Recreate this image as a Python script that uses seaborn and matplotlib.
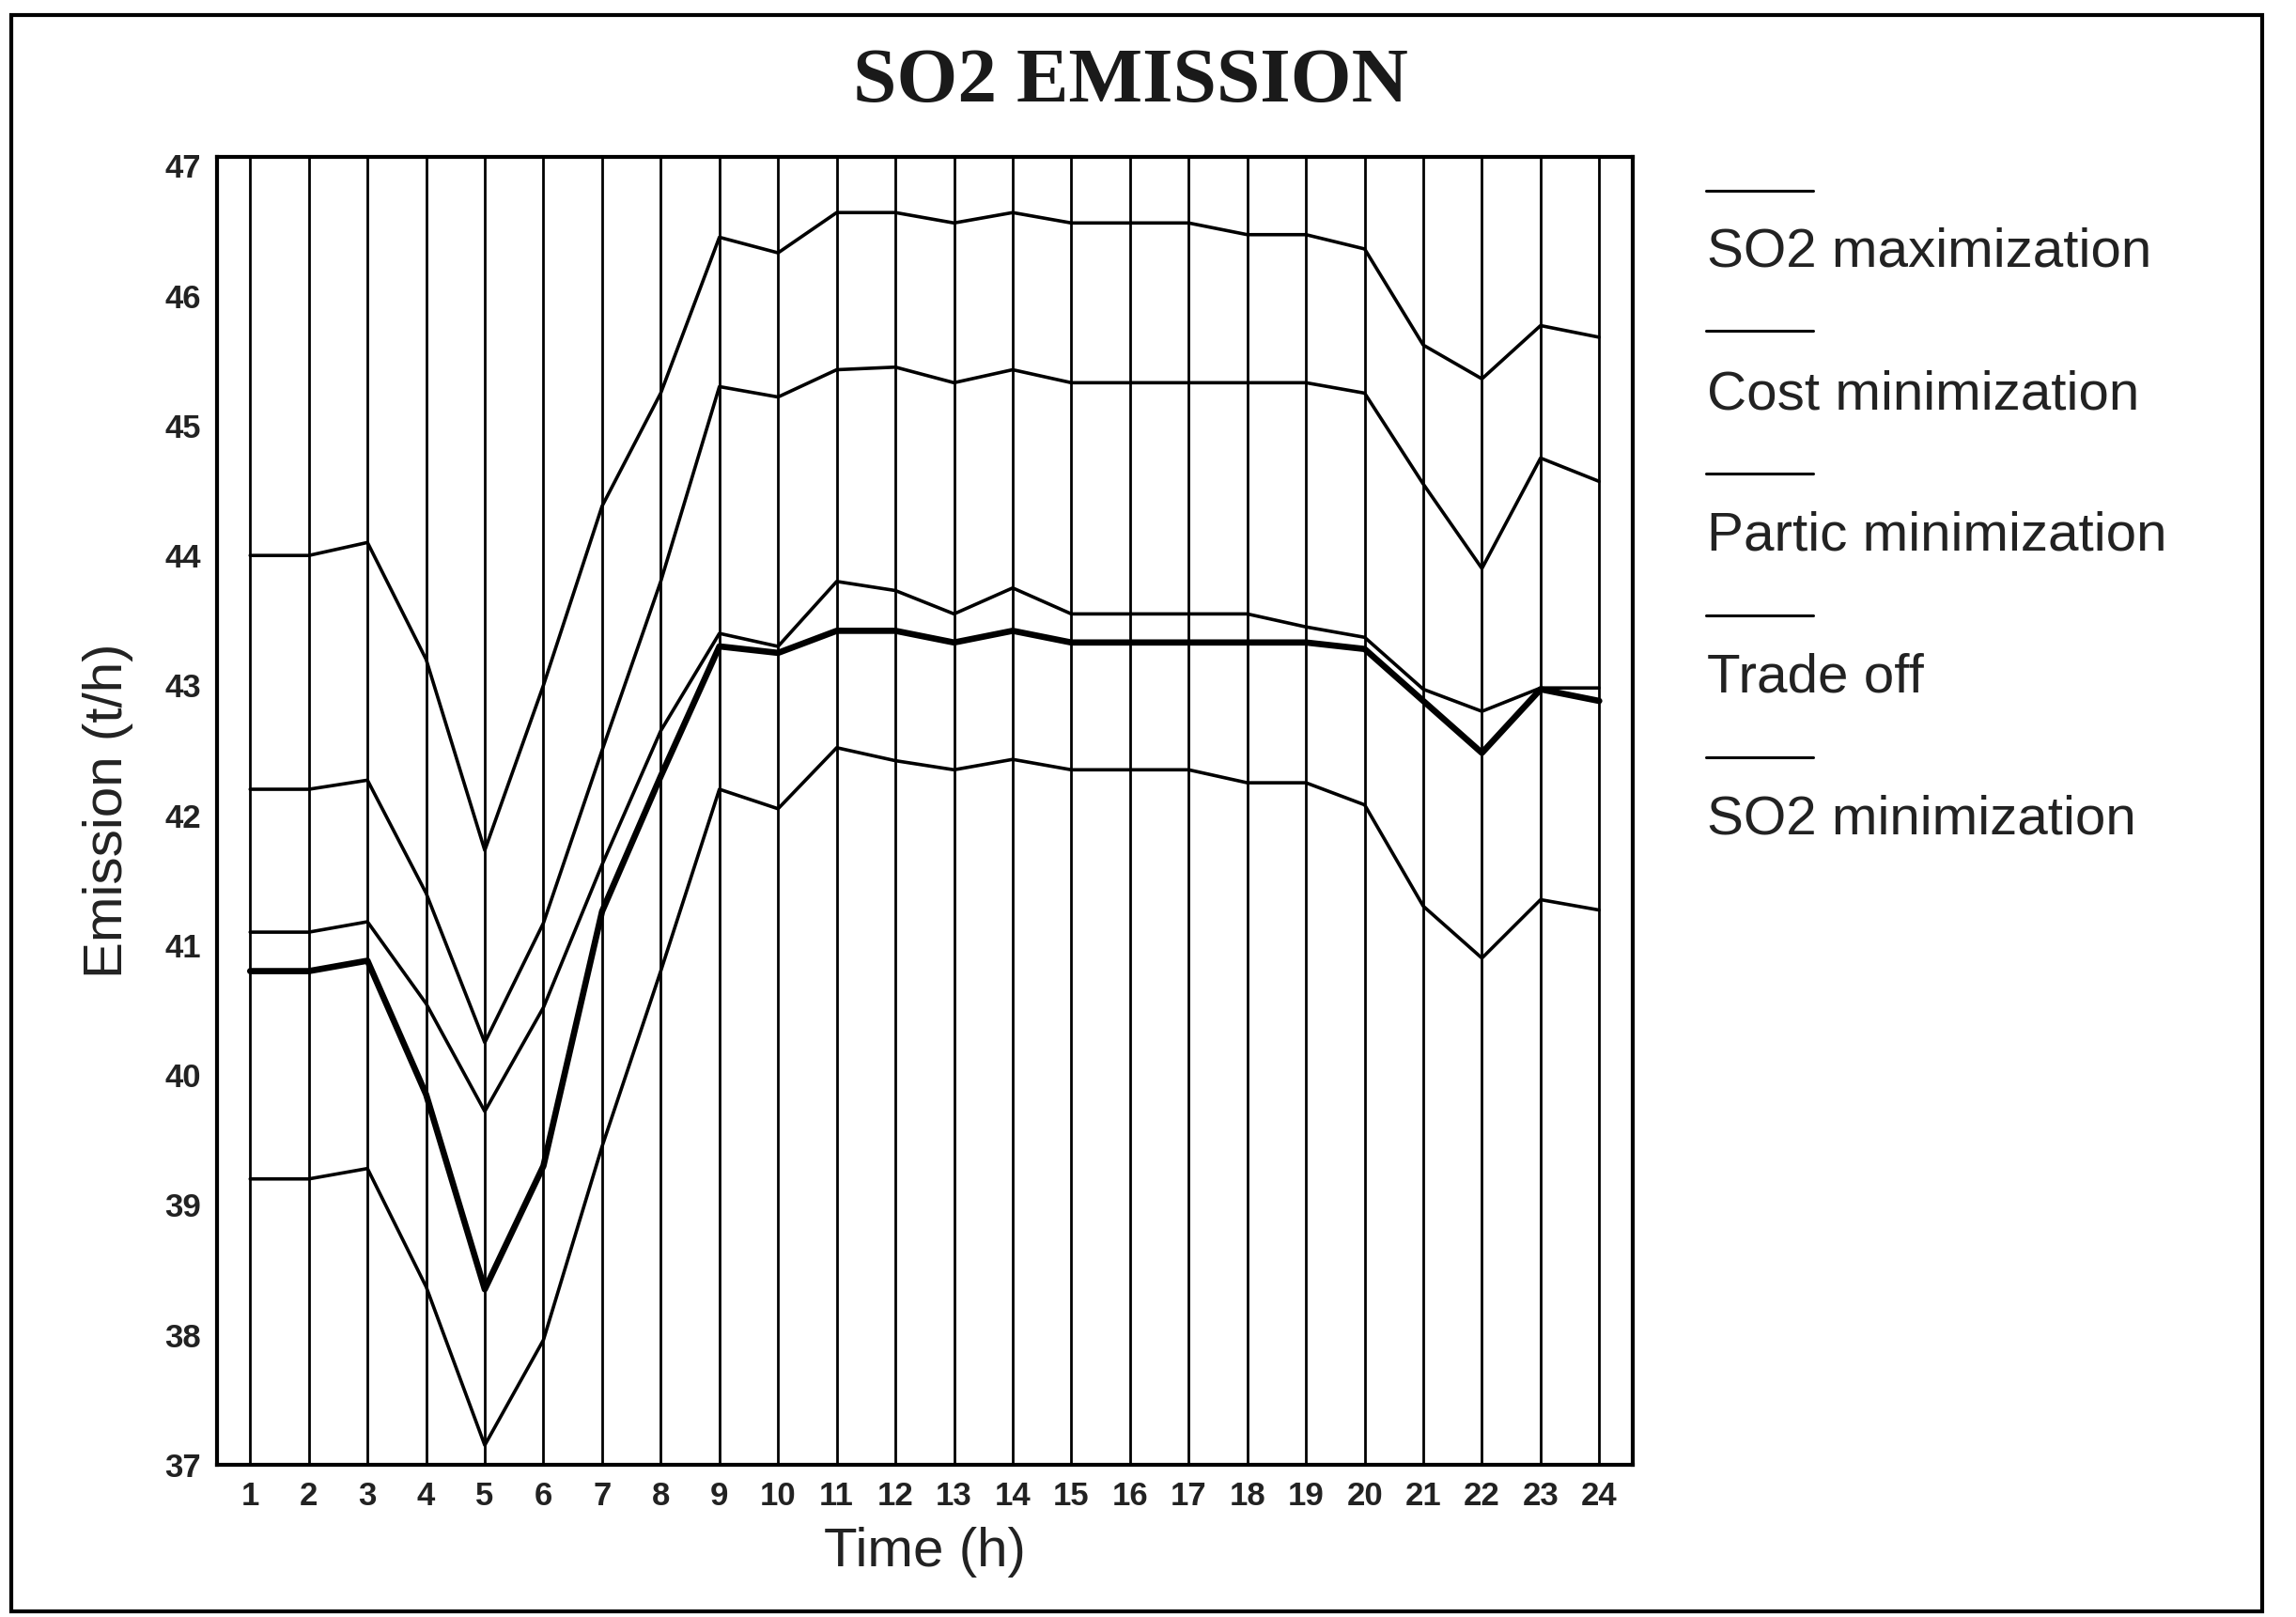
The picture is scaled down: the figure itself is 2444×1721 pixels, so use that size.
import pandas as pd
import seaborn as sns
import matplotlib.pyplot as plt
from matplotlib.lines import Line2D
from matplotlib.patches import Rectangle

# datos
horas = list(range(1, 25))
so2_max = [44.0, 44.0, 44.1, 43.2, 41.73, 43.0, 44.38, 45.25, 46.45, 46.33, 46.64, 46.64,
           46.56, 46.64, 46.56, 46.56, 46.56, 46.47, 46.47, 46.36, 45.62, 45.36, 45.77, 45.68]
cost_min = [42.2, 42.2, 42.27, 41.4, 40.25, 41.17, 42.5, 43.8, 45.3, 45.22, 45.43, 45.45,
            45.33, 45.43, 45.33, 45.33, 45.33, 45.33, 45.33, 45.25, 44.55, 43.9, 44.75, 44.57]
partic_min = [41.1, 41.1, 41.18, 40.55, 39.72, 40.52, 41.62, 42.65, 43.4, 43.3, 43.8, 43.73,
              43.55, 43.75, 43.55, 43.55, 43.55, 43.55, 43.45, 43.37, 42.97, 42.8, 42.98, 42.98]
trade_off = [40.8, 40.8, 40.88, 39.85, 38.35, 39.3, 41.26, 42.3, 43.3, 43.25, 43.42, 43.42,
             43.33, 43.42, 43.33, 43.33, 43.33, 43.33, 43.33, 43.28, 42.88, 42.48, 42.97, 42.88]
so2_min = [39.2, 39.2, 39.28, 38.37, 37.15, 37.96, 39.45, 40.8, 42.2, 42.05, 42.52, 42.42,
           42.35, 42.43, 42.35, 42.35, 42.35, 42.25, 42.25, 42.08, 41.3, 40.9, 41.35, 41.27]

nombres = ['SO2 maximization', 'Cost minimization', 'Partic minimization',
           'Trade off', 'SO2 minimization']
series = [so2_max, cost_min, partic_min, trade_off, so2_min]
grosores = [1.3, 1.3, 1.3, 2.4, 1.3]

df = pd.DataFrame({'Time': horas * 5,
                   'Emission': sum(series, []),
                   'Serie': [n for n in nombres for _ in horas]})

sns.set_style('white')
plt.rcParams['font.family'] = ['Liberation Sans', 'DejaVu Sans']

fig = plt.figure(figsize=(12.22, 8.605), dpi=200)
W, H = 1568, 1104  # coordenadas de la imagen de referencia


def fx(x):
    return x / W


def fy(y):
    return 1 - y / H


ax = fig.add_axes([fx(148), fy(1000), fx(1115) - fx(148), fy(107) - fy(1000)])

for nombre, lw in zip(nombres, grosores):
    sns.lineplot(data=df[df['Serie'] == nombre], x='Time', y='Emission',
                 color='black', linewidth=lw, ax=ax, legend=False)

for h in horas:
    ax.axvline(h, color='black', linewidth=1.0, zorder=0)

ax.set_xlim(0.43, 24.57)
ax.set_ylim(37, 47.07)
ax.set_xticks(horas)
ax.set_yticks(range(37, 48))
ax.tick_params(axis='both', labelsize=12.5, length=4, width=1.2, color='black',
               direction='out', pad=2, labelcolor='#222222')
ax.tick_params(axis='x', length=0, pad=6)
for lab in ax.get_xticklabels() + ax.get_yticklabels():
    lab.set_fontweight('bold')
for s in ax.spines.values():
    s.set_color('black')
    s.set_linewidth(1.5)
ax.set_xlabel('Time (h)', fontsize=21, labelpad=6, color='#222222')
ax.set_ylabel('Emission (t/h)', fontsize=21, labelpad=12, color='#222222')

fig.text(fx(772), fy(57), 'SO2 EMISSION', ha='center', va='center', fontsize=30,
         family='Liberation Serif', fontweight='bold', color='#1a1a1a')

# leyenda: linea encima de cada texto
lineas_y = [130, 226, 323, 420, 517]
textos_y = [172, 270, 366, 463, 560]
for nombre, ly, ty in zip(nombres, lineas_y, textos_y):
    fig.add_artist(Line2D([fx(1165), fx(1238)], [fy(ly), fy(ly)], color='black',
                          linewidth=1.1))
    fig.text(fx(1166), fy(ty), nombre, ha='left', va='center', fontsize=21,
             color='#222222')

fig.add_artist(Rectangle((fx(8), fy(1100)), fx(1545) - fx(8), fy(10) - fy(1100),
                         fill=False, edgecolor='black', linewidth=1.5))

fig.savefig('out.png', dpi=200)
